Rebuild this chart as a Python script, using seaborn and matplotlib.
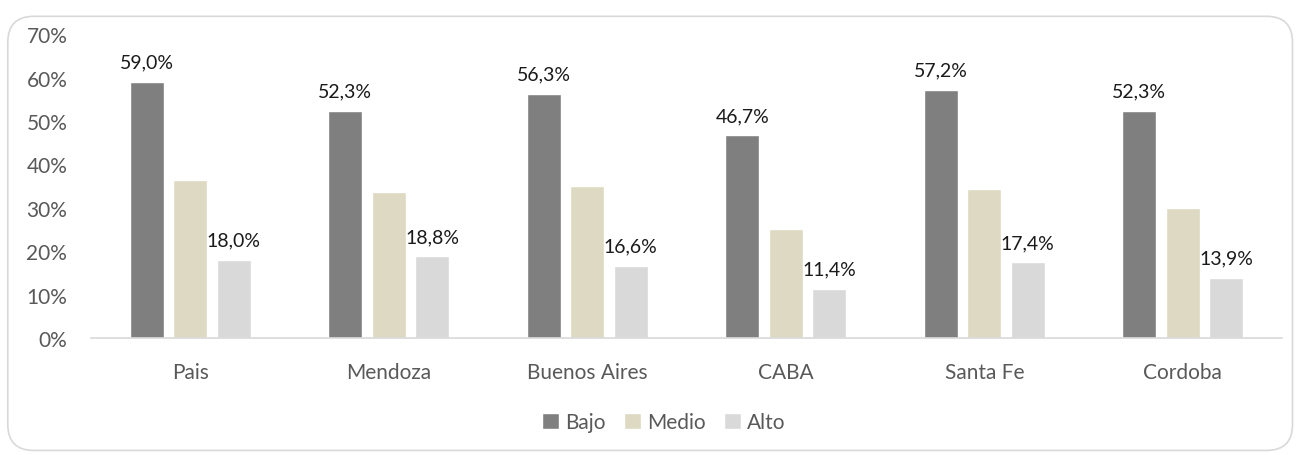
import numpy as np
import pandas as pd
import matplotlib.pyplot as plt
import seaborn as sns
from matplotlib.patches import FancyBboxPatch
from matplotlib.ticker import PercentFormatter

# datos (porcentaje)
regiones = ['Pais', 'Mendoza', 'Buenos Aires', 'CABA', 'Santa Fe', 'Cordoba']
niveles = ['Bajo', 'Medio', 'Alto']
bajo = [59.0, 52.3, 56.3, 46.7, 57.2, 52.3]
medio = [36.3, 33.7, 35.1, 25.0, 34.4, 30.0]
alto = [18.0, 18.8, 16.6, 11.4, 17.4, 13.9]
colores = ['#7f7f7f', '#ddd9c3', '#d9d9d9']

df = pd.DataFrame({'region': regiones * 3,
                   'nivel': np.repeat(niveles, len(regiones)),
                   'valor': bajo + medio + alto})

sns.set_style('white')
plt.rcParams['font.family'] = ['Lato', 'DejaVu Sans']

fig = plt.figure(figsize=(12.99, 4.56), dpi=100)
ax = fig.add_axes([0.070, 0.2566, 0.917, 0.6664])

sns.barplot(data=df, x='region', y='valor', hue='nivel', order=regiones,
            hue_order=niveles, palette=colores, width=0.657, saturation=1,
            ax=ax, legend=True)

# barras un poco mas angostas (espacio entre barras)
for p in ax.patches:
    if p.get_height() > 0 and p.get_width() < 0.5:
        c = p.get_x() + p.get_width() / 2
        w = 0.171
        p.set_x(c - w / 2)
        p.set_width(w)

# etiquetas solo en Bajo y Alto
for cont, nivel in zip(ax.containers, niveles):
    if nivel == 'Medio':
        continue
    ax.bar_label(cont, labels=[f'{v:.1f}%'.replace('.', ',') for v in cont.datavalues],
                 padding=8, fontsize=14, color='#1a1a1a')

ax.set_ylim(0, 70)
ax.set_yticks(range(0, 71, 10))
ax.yaxis.set_major_formatter(PercentFormatter(decimals=0))
ax.set_xlim(-0.5, 5.5)
ax.set_xlabel('')
ax.set_ylabel('')
ax.tick_params(axis='both', length=0, labelsize=15, labelcolor='#595959')
ax.tick_params(axis='x', pad=17)
ax.tick_params(axis='y', pad=17)
for s in ['top', 'right', 'left']:
    ax.spines[s].set_visible(False)
ax.spines['bottom'].set_color('#d9d9d9')
ax.spines['bottom'].set_linewidth(1.2)

h, l = ax.get_legend_handles_labels()
ax.legend(h, l, loc='center', bbox_to_anchor=(0.511, 0.072),
          bbox_transform=fig.transFigure, ncol=3, frameon=False,
          fontsize=15, labelcolor='#595959', handlelength=0.8,
          handleheight=0.8, handletextpad=0.3, columnspacing=0.9)

# marco redondeado
borde = FancyBboxPatch((0.006, 0.01), 0.989, 0.952, transform=fig.transFigure,
                       boxstyle='round,pad=0,rounding_size=0.02',
                       facecolor='none', edgecolor='#d9d9d9', linewidth=1.2,
                       mutation_aspect=1299 / 456)
fig.patches.append(borde)

fig.savefig('out.png', dpi=100)
